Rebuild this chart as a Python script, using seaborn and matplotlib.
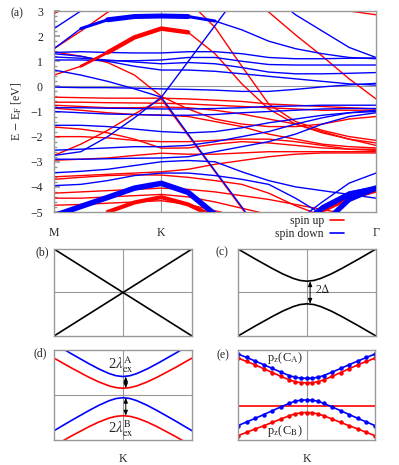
import numpy as np
import pandas as pd
import matplotlib
matplotlib.use("Agg")
import matplotlib.pyplot as plt
import seaborn as sns
from matplotlib.lines import Line2D

nan = np.nan

# ---------------- panel (a): band structure data ----------------
K_PATH = [0, 0.25, 0.5, 0.75, 1, 1.25, 1.5, 1.75, 2, 2.25, 2.5, 2.75, 3]
K_TICKS = [0, 1, 3]
K_LABELS = ["M", "K", "Γ"]
E_TICKS = [-5, -4, -3, -2, -1, 0, 1, 2, 3]

# spin down (blue)
dn_01 = [1.50, 2.30, 2.65, 2.78, 2.80, 2.78, 2.60, 2.25, 1.80, 1.50, 1.30, 1.15, 1.10]
dn_02 = [nan, nan, nan, nan, nan, nan, nan, nan, 3.70, 2.85, 2.20, 1.55, 1.15]
dn_03 = [2.30, 3.00, 3.70, nan, nan, nan, nan, nan, nan, nan, nan, nan, nan]
dn_04 = [0.65, 0.45, 0.20, -0.10, -0.43, 0.99, 2.42, 3.85, nan, nan, nan, nan, nan]
dn_05 = [-2.75, -2.60, -2.00, -1.25, -0.43, -1.90, -3.36, -4.80, -6.30, nan, nan, nan, nan]
dn_06 = [1.35, 1.38, 1.35, 1.33, 1.33, 1.38, 1.38, 1.30, 1.15, 1.10, 1.10, 1.12, 1.13]
dn_07 = [1.05, 1.05, 1.02, 1.02, 1.05, 1.15, 1.15, 1.00, 0.87, 0.85, 0.85, 0.85, 0.85]
dn_08 = [1.30, 1.20, 1.00, 0.80, 0.65, 0.65, 0.60, 0.50, 0.40, 0.30, 0.20, 0.10, 0.05]
dn_09 = [1.17, 1.12, 1.05, 0.97, 0.90, 0.95, 0.90, 0.75, 0.57, 0.50, 0.50, 0.52, 0.55]
dn_10 = [-0.03, -0.05, -0.05, -0.07, -0.10, -0.12, -0.15, -0.20, -0.20, -0.12, -0.02, 0.06, 0.12]
dn_11 = [-0.85, -0.85, -0.87, -0.88, -0.90, -0.90, -0.88, -0.85, -0.80, -0.78, -0.75, -0.75, -0.75]
dn_12 = [-1.00, -1.05, -1.10, -1.12, -1.15, -1.15, -1.12, -1.05, -1.00, -0.95, -0.90, -0.88, -0.88]
dn_13 = [-1.55, -1.55, -1.60, -1.70, -1.80, -1.85, -1.80, -1.65, -1.45, -1.30, -1.15, -1.05, -1.00]
dn_14 = [-2.54, -2.50, -2.45, -2.40, -2.40, -2.35, -2.20, -2.00, -1.80, -1.50, -1.25, -1.05, -0.95]
dn_15 = [-2.90, -2.90, -2.88, -2.86, -2.85, -2.80, -2.60, -2.40, -2.20, -1.90, -1.50, -1.20, -1.05]
dn_16 = [-3.44, -3.38, -3.30, -3.15, -3.00, -2.95, -3.00, -3.40, -3.75, -4.00, -4.15, -4.30, -4.45]
dn_17 = [-3.95, -3.90, -3.75, -3.55, -3.45, -3.45, -3.55, -3.70, -3.90, -4.45, -5.10, nan, nan]
dn_18 = [-5.15, -4.78, -4.42, -4.05, -3.86, -4.22, -5.10, nan, nan, nan, nan, nan, nan]
dn_19 = [nan, nan, nan, nan, nan, nan, nan, nan, nan, -5.70, -4.85, -4.30, -4.05]
dn_20 = [nan, nan, nan, nan, nan, nan, nan, nan, nan, nan, -5.50, -4.50, -4.05]
dn_21 = [nan, nan, nan, nan, nan, nan, nan, nan, nan, -5.40, -4.60, -3.85, -3.45]
dn_22 = [nan, nan, nan, nan, nan, nan, nan, nan, nan, -5.60, -4.75, -4.20, -4.00]

# spin up (red)
up_01 = [2.90, 3.40, nan, nan, nan, nan, nan, nan, nan, nan, nan, nan, nan]
up_02 = [1.50, 2.20, 2.95, 3.70, nan, nan, nan, nan, nan, nan, nan, nan, nan]
up_03 = [0.45, 0.80, 1.35, 1.95, 2.30, 2.15, 1.30, 0.10, -0.90, -1.50, -1.85, -2.10, -2.25]
up_04 = [nan, nan, nan, nan, nan, 3.40, 2.35, 0.80, -0.70, -1.40, -1.75, -2.00, -2.15]
up_05 = [nan, nan, nan, nan, nan, nan, nan, 3.90, 2.96, 2.05, 1.20, 0.30, -0.50]
up_06 = [nan, nan, nan, nan, nan, nan, nan, nan, nan, nan, 3.40, 3.00, 2.85]
up_07 = [1.37, 1.20, 0.95, 0.45, -0.40, -0.90, -1.30, -1.50, -1.60, -1.60, -1.50, -1.30, -1.20]
up_08 = [-0.43, -0.45, -0.47, -0.47, -0.47, -0.50, -0.55, -0.60, -0.70, -0.75, -0.80, -0.85, -0.90]
up_09 = [-0.63, -0.63, -0.65, -0.66, -0.67, -0.70, -0.75, -0.80, -0.85, -0.90, -0.95, -0.95, -0.95]
up_10 = [-0.75, -0.80, -0.85, -0.85, -0.82, -0.85, -0.95, -1.10, -1.30, -1.50, -1.80, -2.10, -2.35]
up_11 = [-0.87, -0.95, -1.05, -1.12, -1.14, -1.20, -1.40, -1.60, -1.90, -2.10, -2.30, -2.40, -2.45]
up_12 = [-1.62, -1.70, -1.85, -2.10, -2.46, -2.45, -2.30, -2.20, -2.25, -2.35, -2.45, -2.50, -2.50]
up_13 = [-2.00, -2.00, -2.05, -2.15, -2.20, -2.20, -2.15, -2.10, -2.10, -2.20, -2.35, -2.50, -2.55]
up_14 = [-2.75, -2.30, -1.75, -1.10, -0.50, -1.95, -3.40, -4.85, -6.30, nan, nan, nan, nan]
up_15 = [-2.94, -2.90, -2.85, -2.75, -2.66, -2.70, -2.70, -2.65, -2.60, -2.60, -2.60, -2.60, -2.60]
up_16 = [-3.60, -3.55, -3.50, -3.45, -3.40, -3.30, -3.10, -2.95, -2.80, -2.70, -2.65, -2.65, -2.65]
up_17 = [-3.70, -3.62, -3.55, -3.52, -3.53, -3.62, -3.75, -3.90, -4.25, -4.75, -5.15, nan, nan]
up_18 = [-4.25, -4.20, -4.15, -4.10, -4.05, -4.10, -4.20, -4.35, -4.50, -4.70, -4.90, -5.10, nan]
up_19 = [-4.45, -4.45, -4.40, -4.35, -4.30, -4.40, -4.60, -4.85, -5.10, nan, nan, nan, nan]
up_20 = [-4.73, -4.70, -4.65, -4.60, -4.55, -4.70, -4.95, -5.20, nan, nan, nan, nan, nan]
up_21 = [nan, nan, -5.00, -4.62, -4.41, -4.70, -5.20, nan, nan, nan, nan, nan, nan]
up_22 = [nan, nan, nan, nan, nan, nan, nan, nan, nan, -5.80, -4.95, -4.45, -4.15]

SPIN_DOWN = {"dn_01": dn_01, "dn_02": dn_02, "dn_03": dn_03, "dn_04": dn_04, "dn_05": dn_05,
             "dn_06": dn_06, "dn_07": dn_07, "dn_08": dn_08, "dn_09": dn_09, "dn_10": dn_10,
             "dn_11": dn_11, "dn_12": dn_12, "dn_13": dn_13, "dn_14": dn_14, "dn_15": dn_15,
             "dn_16": dn_16, "dn_17": dn_17, "dn_18": dn_18, "dn_19": dn_19, "dn_20": dn_20,
             "dn_21": dn_21, "dn_22": dn_22}
SPIN_UP = {"up_01": up_01, "up_02": up_02, "up_03": up_03, "up_04": up_04, "up_05": up_05,
           "up_06": up_06, "up_07": up_07, "up_08": up_08, "up_09": up_09, "up_10": up_10,
           "up_11": up_11, "up_12": up_12, "up_13": up_13, "up_14": up_14, "up_15": up_15,
           "up_16": up_16, "up_17": up_17, "up_18": up_18, "up_19": up_19, "up_20": up_20,
           "up_21": up_21, "up_22": up_22}

# ---------------- small schematic panels ----------------
k_b = [-1, 0, 1]
b_upper = [1, 0, 1]
b_lower = [-1, 0, -1]

k_s = [-1, -0.75, -0.5, -0.35, -0.2, -0.1, 0, 0.1, 0.2, 0.35, 0.5, 0.75, 1]
c_upper = [1.0, 0.77, 0.549, 0.426, 0.324, 0.277, 0.26, 0.277, 0.324, 0.426, 0.549, 0.77, 1.0]
c_lower = [-1.0, -0.77, -0.549, -0.426, -0.324, -0.277, -0.26, -0.277, -0.324, -0.426, -0.549, -0.77, -1.0]
gap_c = (0.26, -0.26)

d_blue_up = [1.144, 0.918, 0.701, 0.579, 0.476, 0.428, 0.41, 0.428, 0.476, 0.579, 0.701, 0.918, 1.144]
d_blue_dn = [-0.794, -0.568, -0.351, -0.229, -0.126, -0.078, -0.06, -0.078, -0.126, -0.229, -0.351, -0.568, -0.794]
d_red_up = [0.82, 0.603, 0.399, 0.29, 0.202, 0.164, 0.15, 0.164, 0.202, 0.29, 0.399, 0.603, 0.82]
d_red_dn = [-1.13, -0.913, -0.709, -0.6, -0.512, -0.474, -0.46, -0.474, -0.512, -0.6, -0.709, -0.913, -1.13]

k_e = [-1, -0.875, -0.75, -0.625, -0.5, -0.375, -0.25, -0.167, -0.083, 0,
       0.083, 0.167, 0.25, 0.375, 0.5, 0.625, 0.75, 0.875, 1]
e_blue_up = [0.91, 0.835, 0.755, 0.675, 0.59, 0.51, 0.43, 0.395, 0.375, 0.37,
             0.375, 0.395, 0.43, 0.51, 0.59, 0.675, 0.755, 0.835, 0.91]
e_red_up = [0.82, 0.745, 0.67, 0.585, 0.5, 0.415, 0.335, 0.295, 0.275, 0.27,
            0.275, 0.295, 0.335, 0.415, 0.5, 0.585, 0.67, 0.745, 0.82]
e_blue_dn = [-0.68, -0.6, -0.52, -0.435, -0.35, -0.265, -0.185, -0.14, -0.115, -0.11,
             -0.115, -0.14, -0.185, -0.265, -0.35, -0.435, -0.52, -0.6, -0.68]
e_red_dn = [-0.905, -0.83, -0.755, -0.685, -0.61, -0.535, -0.46, -0.42, -0.395, -0.39,
            -0.395, -0.42, -0.46, -0.535, -0.61, -0.685, -0.755, -0.83, -0.905]
e_flat = -0.245

# ---------------- style ----------------
sns.set_theme(style="white")
plt.rcParams["font.family"] = ["Liberation Serif", "DejaVu Serif"]
plt.rcParams["mathtext.fontset"] = "stix"
RED = "#ff0000"
BLUE = "#0000ff"
GREY = "#999999"
FS = 8.5

W, H = 399, 465
fig = plt.figure(figsize=(W / 100, H / 100), dpi=100)


def px_axes(l, t, r, b):
    return fig.add_axes([l / W, 1 - b / H, (r - l) / W, (b - t) / H])


def long_df(bands):
    rows = []
    for name, vals in bands.items():
        for kk, ee in zip(K_PATH, vals):
            if not np.isnan(ee):
                rows.append((name, kk, ee))
    return pd.DataFrame(rows, columns=["band", "k", "E"])


ax = px_axes(54, 11, 376, 212)
ax.axhline(0, color=GREY, lw=0.8, zorder=0)
ax.axvline(1, color=GREY, lw=0.8, zorder=0)

df_up = long_df(SPIN_UP)
df_dn = long_df(SPIN_DOWN)
sns.lineplot(data=df_up, x="k", y="E", units="band", estimator=None, sort=False,
             color=RED, lw=1.0, ax=ax, legend=False)
sns.lineplot(data=df_dn, x="k", y="E", units="band", estimator=None, sort=False,
             color=BLUE, lw=1.0, ax=ax, legend=False)

# fat-band weights: (band, first index, last index, linewidth)
FAT_UP = [("up_03", 1, 5, 2.0), ("up_03", 2, 5, 3.2), ("up_21", 2, 6, 3.0), ("up_22", 9, 12, 3.0)]
FAT_DN = [("dn_01", 1, 6, 2.2), ("dn_01", 2, 5, 3.6), ("dn_18", 0, 6, 4.0),
          ("dn_19", 9, 12, 3.8), ("dn_20", 10, 12, 3.8)]
for name, i0, i1, lw in FAT_UP:
    ax.plot(K_PATH[i0:i1 + 1], SPIN_UP[name][i0:i1 + 1], color=RED, lw=lw,
            solid_capstyle="round", solid_joinstyle="round", zorder=2.5)
for name, i0, i1, lw in FAT_DN:
    ax.plot(K_PATH[i0:i1 + 1], SPIN_DOWN[name][i0:i1 + 1], color=BLUE, lw=lw,
            solid_capstyle="round", solid_joinstyle="round", zorder=2.6)

ax.set_xlim(0, 3)
ax.set_ylim(-5, 3)
ax.set_yticks(E_TICKS)
ax.set_yticks(np.arange(-5, 3.01, 0.2), minor=True)
ax.set_xticks(K_TICKS)
ax.set_xticklabels(K_LABELS)
ax.tick_params(axis="y", which="major", direction="in", length=4, color=GREY,
               labelsize=FS, pad=8, left=True)
ax.tick_params(axis="y", which="minor", direction="in", length=2, color=GREY, left=True)
ax.tick_params(axis="x", length=0, labelsize=FS, pad=11)
ax.set_xlabel("")
ax.set_ylabel(r"E $-$ E$_{\rm F}$ [eV]", fontsize=FS, labelpad=5)
for s in ax.spines.values():
    s.set_color(GREY)
    s.set_linewidth(1.0)

handles = [Line2D([], [], color=RED, lw=1.2), Line2D([], [], color=BLUE, lw=1.2)]
fig.legend(handles, ["spin up", "spin down"], loc="upper right",
           bbox_to_anchor=(344 / W, 1 - 215 / H), bbox_transform=fig.transFigure,
           frameon=False, markerfirst=False, fontsize=FS, handlelength=1.2,
           handletextpad=0.5, labelspacing=0.1, borderpad=0, borderaxespad=0)


def small(l, t, r, b):
    a = px_axes(l, t, r, b)
    a.set_xlim(-1, 1)
    a.set_ylim(-1, 1)
    a.set_xticks([])
    a.set_yticks([])
    a.set_xlabel("")
    a.set_ylabel("")
    for s in a.spines.values():
        s.set_color(GREY)
        s.set_linewidth(1.0)
    a.axvline(0, color=GREY, lw=0.8, zorder=0)
    return a


arrow_kw = dict(arrowstyle="<|-|>,head_length=0.25,head_width=0.1", color="black", lw=0.7,
                shrinkA=0, shrinkB=0)

# (b)
axb = small(54, 249, 192, 336)
axb.axhline(0, color=GREY, lw=0.8, zorder=0)
sns.lineplot(x=k_b, y=b_upper, color="black", lw=1.2, ax=axb)
sns.lineplot(x=k_b, y=b_lower, color="black", lw=1.2, ax=axb)
axb.set_ylabel("E", fontsize=FS, labelpad=12)

# (c)
axc = small(238, 249, 376, 336)
axc.axhline(0, color=GREY, lw=0.8, zorder=0)
sns.lineplot(x=k_s, y=c_upper, color="black", lw=1.2, ax=axc)
sns.lineplot(x=k_s, y=c_lower, color="black", lw=1.2, ax=axc)
axc.annotate("", xy=(0.045, gap_c[0]), xytext=(0.045, gap_c[1]), arrowprops=arrow_kw)
axc.text(0.11, 0.07, r"2$\Delta$", fontsize=FS, ha="left", va="center")

# (d)
axd = small(54, 350, 192, 440)
axd.axhline(0, color=GREY, lw=0.8, zorder=0)
sns.lineplot(x=k_s, y=d_red_up, color=RED, lw=1.2, ax=axd)
sns.lineplot(x=k_s, y=d_red_dn, color=RED, lw=1.2, ax=axd)
sns.lineplot(x=k_s, y=d_blue_up, color=BLUE, lw=1.2, ax=axd)
sns.lineplot(x=k_s, y=d_blue_dn, color=BLUE, lw=1.2, ax=axd)
axd.annotate("", xy=(0.04, d_blue_up[6]), xytext=(0.04, d_red_up[6]), arrowprops=arrow_kw)
axd.annotate("", xy=(0.04, d_blue_dn[6]), xytext=(0.04, d_red_dn[6]), arrowprops=arrow_kw)
axd.text(-0.03, 0.68, r"2$\lambda^{\rm A}_{\rm ex}$", fontsize=10.5, ha="center", va="center")
axd.text(-0.03, -0.74, r"2$\lambda^{\rm B}_{\rm ex}$", fontsize=10.5, ha="center", va="center")
axd.set_ylabel("E", fontsize=FS, labelpad=12)
axd.set_xticks([0])
axd.set_xticklabels(["K"])
axd.tick_params(axis="x", length=0, labelsize=FS, pad=9)

# (e)
axe = small(238, 350, 375, 440)
axe.axhline(e_flat, color=RED, lw=1.2, zorder=1)
mk = dict(marker="o", markersize=3.2, markeredgewidth=0, lw=1.2)
sns.lineplot(x=k_e, y=e_red_up, color=RED, ax=axe, **mk)
sns.lineplot(x=k_e, y=e_red_dn, color=RED, ax=axe, **mk)
sns.lineplot(x=k_e, y=e_blue_up, color=BLUE, ax=axe, **mk)
sns.lineplot(x=k_e, y=e_blue_dn, color=BLUE, ax=axe, **mk)
axe.text(-0.31, 0.82, r"p$_{\rm z}$(C$_{\rm A}$)", fontsize=FS + 0.5, ha="center", va="center")
axe.text(-0.31, -0.80, r"p$_{\rm z}$(C$_{\rm B}$)", fontsize=FS + 0.5, ha="center", va="center")
axe.set_xticks([0])
axe.set_xticklabels(["K"])
axe.tick_params(axis="x", length=0, labelsize=FS, pad=9)

for lab, (x, y) in {"(a)": (17, 13), "(b)": (42, 252), "(c)": (222, 252),
                    "(d)": (40, 353), "(e)": (223, 355)}.items():
    fig.text(x / W, 1 - y / H, lab, fontsize=FS, ha="center", va="center")

fig.savefig("out.png", dpi=100)
